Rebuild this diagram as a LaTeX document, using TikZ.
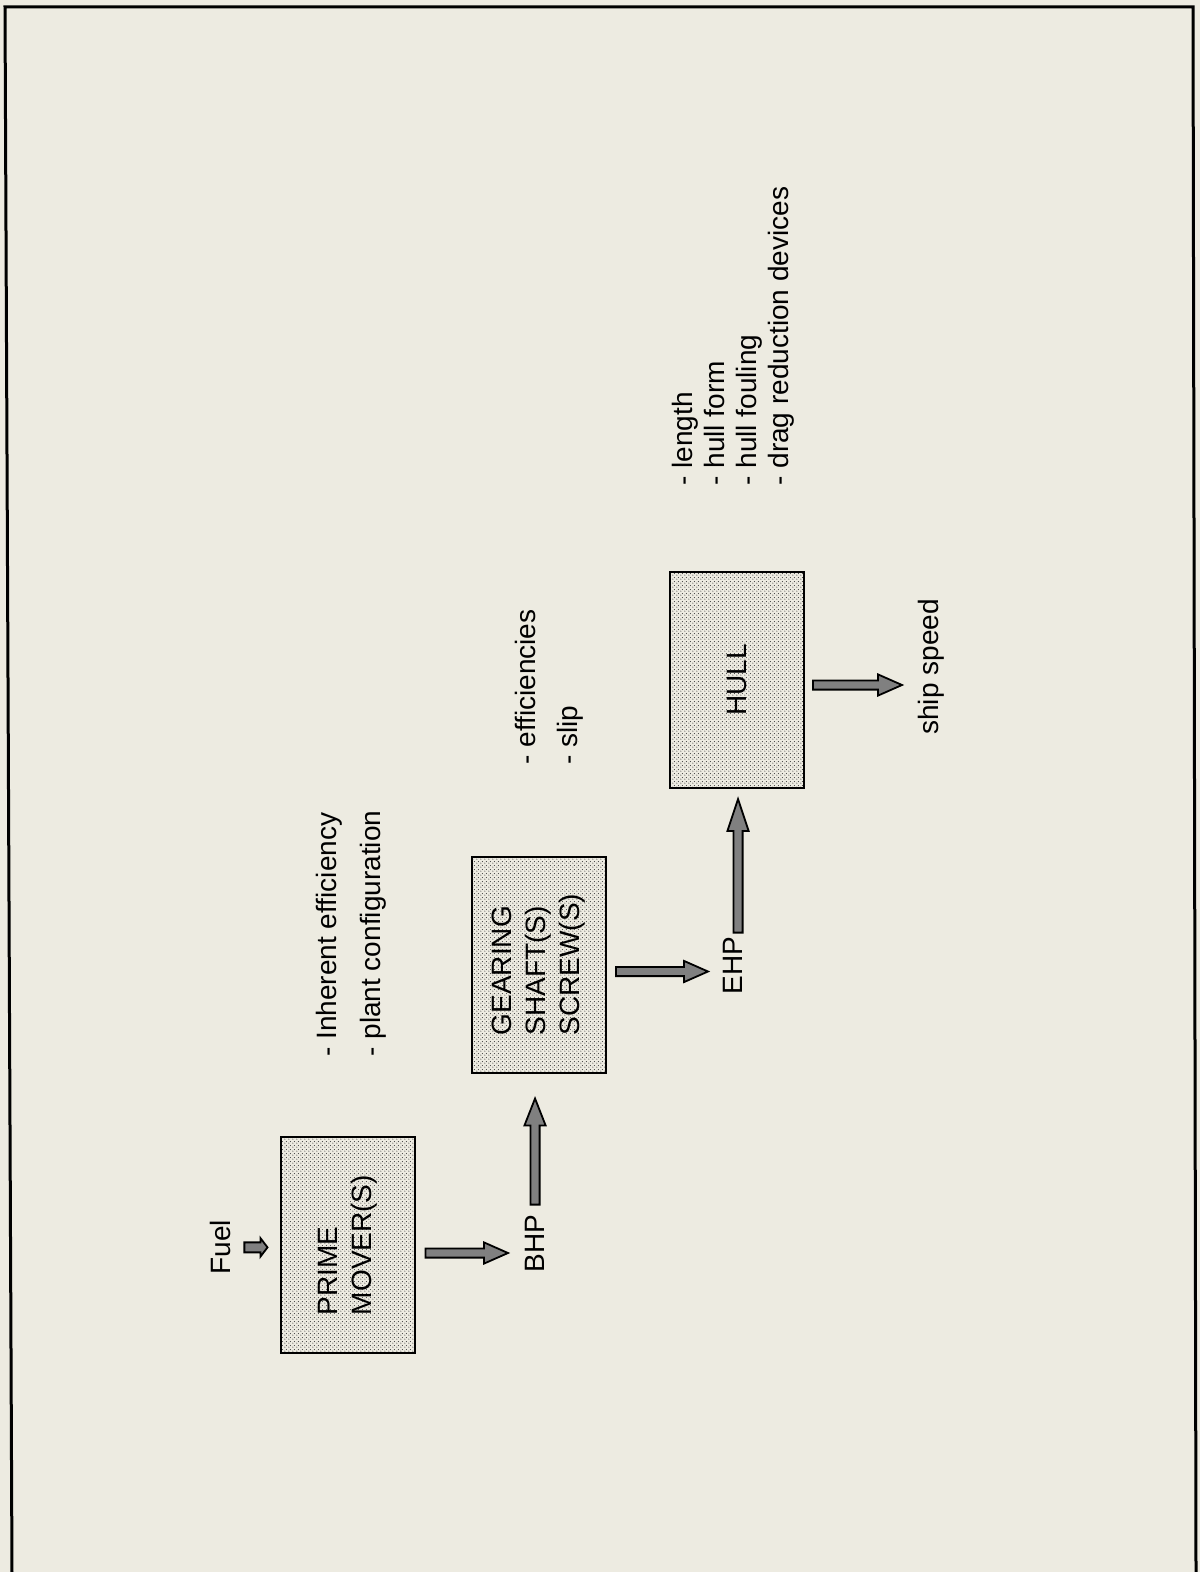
\documentclass[tikz,border=0pt]{standalone}
\usepackage{fontspec}
\setmainfont{Liberation Sans}
\usetikzlibrary{calc,patterns}

\definecolor{paper}{HTML}{EDEBE1}
\definecolor{flowgray}{gray}{0.5}

\pgfdeclarepatternformonly{finedots}{\pgfqpoint{0pt}{0pt}}{\pgfqpoint{2pt}{2pt}}{\pgfqpoint{2pt}{2pt}}{%
  \pgfpathcircle{\pgfqpoint{0.5pt}{0.5pt}}{0.33pt}%
  \pgfpathcircle{\pgfqpoint{1.5pt}{1.5pt}}{0.33pt}%
  \pgfusepath{fill}}

\tikzset{
  headlen/.store in=\flowheadlen, headlen=12pt,
  headwd/.store in=\flowheadwd, headwd=5.3pt,
  shaftwd/.store in=\flowshaftwd, shaftwd=2.3pt,
}

\begin{document}
\begin{tikzpicture}[%
  x=0.5pt, y=-0.5pt,
  block/.style={rectangle, draw, line width=1pt, rotate=90, minimum width=108pt, minimum height=67pt,
    align=left, preaction={fill=paper}, pattern=finedots, pattern color=black!75,
    font=\fontsize{14}{17}\selectfont},
  note/.style={rotate=90, inner sep=0pt, anchor=north west, align=left,
    font=\fontsize{14}{22}\selectfont},
  flow/.style 2 args={draw, line width=0.9pt, fill=flowgray, line join=miter,
    to path={
      ($(\tikztostart)!#1!(\tikztotarget)$) coordinate (fs)
      ($(\tikztotarget)!#2!(\tikztostart)$) coordinate (ft)
      ($(fs)!\flowshaftwd!90:(ft)$)
      -- ($(ft)!\flowheadlen!(fs)!\flowshaftwd!90:(ft)$)
      -- ($(ft)!\flowheadlen!(fs)!\flowheadwd!90:(ft)$)
      -- (ft)
      -- ($(ft)!\flowheadlen!(fs)!\flowheadwd!-90:(ft)$)
      -- ($(ft)!\flowheadlen!(fs)!\flowshaftwd!-90:(ft)$)
      -- ($(fs)!\flowshaftwd!-90:(ft)$) -- cycle}},
  ]
  \fill[paper] (0,0) rectangle (1200,1572);
  \useasboundingbox (0,0) rectangle (1200,1572);
  \draw[line width=1.5pt] (12,1572) -- (5,7) -- (1193,7) -- (1196,1572);

  % boxes
  \node[block] (pm) at (347.5,1245) {PRIME\\MOVER(S)};
  \node[block] (gear) at (539,964.5) {GEARING\\SHAFT(S)\\SCREW(S)};
  \node[block] (hull) at (737,680) {HULL};

  % texts
  \node[note] (fuel) at (210,1275) {Fuel};
  \node[note] (bhp) at (525,1273) {BHP};
  \node[note] (ehp) at (723,995) {EHP};
  \node[note] (ship) at (918,735) {ship speed};
  \node[note] (plant) at (316,1057) {- Inherent efficiency\\- plant configuration};
  \node[note, font=\fontsize{14}{21}\selectfont] (prop) at (515,765) {- efficiencies\\- slip};
  \node[note, font=\fontsize{14}{16}\selectfont] (form) at (672,486)
    {- length\\- hull form\\- hull fouling\\- drag reduction devices};

  % flows
  \draw[flow={6.5pt}{6pt}, headlen=3.5pt, headwd=4.6pt, shaftwd=2.5pt] (fuel.south) to (fuel.south -| pm.north);
  \draw[flow={5pt}{8.5pt}] ([yshift=-4pt]pm.south) to ([yshift=-4pt]pm.south -| bhp.north);
  \draw[flow={5pt}{12.5pt}, headlen=13.5pt] (bhp.east) to (bhp.east |- gear.west);
  \draw[flow={4.5pt}{7.5pt}] ([yshift=-3.5pt]gear.south) to ([yshift=-3.5pt]gear.south -| ehp.north);
  \draw[flow={2pt}{5pt}, headlen=16pt] ([xshift=2.5pt]ehp.east) to ([xshift=2.5pt]ehp.east |- hull.west);
  \draw[flow={4pt}{8pt}] ([yshift=-2.5pt]hull.south) to ([yshift=-2.5pt]hull.south -| ship.north);
\end{tikzpicture}
\end{document}
